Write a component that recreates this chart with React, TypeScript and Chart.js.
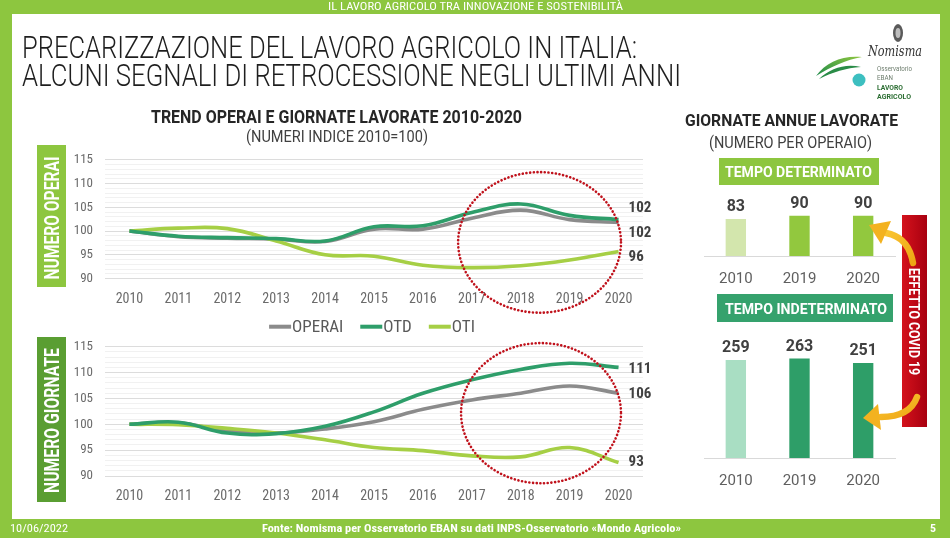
import React, { useEffect, useRef } from "react";
import { Chart, registerables } from "chart.js";
Chart.register(...registerables);

// ---------- DATA ----------
const YEARS = ["2010", "2011", "2012", "2013", "2014", "2015", "2016", "2017", "2018", "2019", "2020"];
const SERIES = ["OPERAI", "OTD", "OTI"];
// Numero operai (indice 2010=100)
const operaiOPERAI = [100, 98.8, 98.5, 98.3, 97.8, 100.4, 100.4, 102.7, 104.4, 102.4, 101.8];
const operaiOTD = [100, 98.9, 98.6, 98.4, 97.9, 100.9, 101.1, 103.9, 105.7, 103.3, 102.4];
const operaiOTI = [100, 100.6, 100.5, 97.9, 95.0, 94.7, 92.8, 92.3, 92.7, 93.9, 95.7];
// Numero giornate (indice 2010=100)
const giornateOPERAI = [100, 100.3, 98.7, 98.3, 99.1, 100.5, 102.9, 104.7, 106.0, 107.4, 106.0];
const giornateOTD = [100, 100.4, 98.3, 98.2, 99.6, 102.4, 106.0, 108.6, 110.6, 111.8, 111.0];
const giornateOTI = [100, 99.9, 99.2, 98.3, 97.0, 95.5, 94.9, 93.9, 93.7, 95.5, 92.6];
const Y_MIN = 90;
const Y_MAX = 115;
const Y_LABEL_STEP = 5;
// Giornate annue lavorate per operaio
const BAR_YEARS = ["2010", "2019", "2020"];
const tempoDeterminato = [83, 90, 90];
const tempoIndeterminato = [259, 263, 251];

// ---------- STYLE ----------
const GREEN = "#8dc63f";
const C_OPERAI = "#8b8b8b";
const C_OTD = "#2e9e6a";
const C_OTI = "#a6cf45";
const FONT_N = "'Liberation Sans Narrow', 'Roboto Condensed', 'DejaVu Sans Condensed', 'Liberation Sans', sans-serif";
const FONT_S = "Roboto, 'Liberation Sans', sans-serif";
Chart.defaults.font.family = FONT_N;

function endLabelsPlugin(offsets: number[]) {
  return {
    id: "endLabels",
    afterDatasetsDraw(chart: any) {
      const ctx = chart.ctx;
      ctx.save();
      ctx.font = `bold 15px ${FONT_N}`;
      ctx.fillStyle = "#404040";
      ctx.textAlign = "left";
      ctx.textBaseline = "middle";
      chart.data.datasets.forEach((ds: any, i: number) => {
        const meta = chart.getDatasetMeta(i);
        const pt = meta.data[meta.data.length - 1];
        const v = ds.data[ds.data.length - 1];
        ctx.fillText(String(Math.round(v)), pt.x + 10, pt.y + offsets[i]);
      });
      ctx.restore();
    },
  };
}

function ellipsePlugin(e: { x0: number; x1: number; y0: number; y1: number }) {
  return {
    id: "ellipseAnno",
    afterDraw(chart: any) {
      const { x, y } = chart.scales;
      const ctx = chart.ctx;
      const px0 = x.getPixelForValue(e.x0), px1 = x.getPixelForValue(e.x1);
      const py0 = y.getPixelForValue(e.y0), py1 = y.getPixelForValue(e.y1);
      ctx.save();
      ctx.beginPath();
      ctx.ellipse((px0 + px1) / 2, (py0 + py1) / 2, Math.abs(px1 - px0) / 2, Math.abs(py1 - py0) / 2, 0, 0, Math.PI * 2);
      ctx.setLineDash([0.1, 3.6]);
      ctx.lineCap = "round";
      ctx.lineWidth = 2.6;
      ctx.strokeStyle = "#c0121c";
      ctx.stroke();
      ctx.restore();
    },
  };
}

const legendPlugin = {
  id: "lineLegend",
  afterDraw(chart: any) {
    const ctx = chart.ctx;
    const ca = chart.chartArea;
    ctx.save();
    ctx.font = `17px ${FONT_N}`;
    const seg = 22, gap = 1, space = 17;
    const items = chart.data.datasets.map((ds: any) => ({
      label: ds.label,
      color: ds.borderColor,
      w: seg + gap + ctx.measureText(ds.label).width,
    }));
    const total = items.reduce((s: number, it: any) => s + it.w, 0) + space * (items.length - 1);
    let x = (ca.left + ca.right) / 2 - 2 - total / 2;
    const y = ca.top - 20;
    items.forEach((it: any) => {
      ctx.strokeStyle = it.color;
      ctx.lineWidth = 4;
      ctx.beginPath();
      ctx.moveTo(x, y);
      ctx.lineTo(x + seg, y);
      ctx.stroke();
      ctx.fillStyle = "#595959";
      ctx.textBaseline = "middle";
      ctx.textAlign = "left";
      ctx.fillText(it.label, x + seg + gap, y + 1);
      x += it.w + space;
    });
    ctx.restore();
  },
};

function barLabelsPlugin() {
  return {
    id: "barLabels",
    afterDatasetsDraw(chart: any) {
      const ctx = chart.ctx;
      ctx.save();
      ctx.font = `bold 16px ${FONT_S}`;
      ctx.fillStyle = "#404040";
      ctx.textAlign = "center";
      ctx.textBaseline = "middle";
      const meta = chart.getDatasetMeta(0);
      meta.data.forEach((bar: any, i: number) => {
        ctx.fillText(String(chart.data.datasets[0].data[i]), bar.x, bar.y - 12);
      });
      ctx.restore();
    },
  };
}

function lineConfig(o: {
  series: number[][];
  padTop: number;
  xHeight: number;
  tickPad: number;
  offsets: number[];
  ellipse: { x0: number; x1: number; y0: number; y1: number };
  legend: boolean;
}): any {
  const colors = [C_OPERAI, C_OTD, C_OTI];
  const orders = [3, 1, 2];
  const plugins: any[] = [endLabelsPlugin(o.offsets), ellipsePlugin(o.ellipse)];
  if (o.legend) plugins.push(legendPlugin);
  return {
    type: "line",
    data: {
      labels: YEARS,
      datasets: o.series.map((d, i) => ({
        label: SERIES[i],
        data: d,
        borderColor: colors[i],
        backgroundColor: colors[i],
        borderWidth: 3.6,
        tension: 0.4,
        pointRadius: 0,
        order: orders[i],
        fill: false,
      })),
    },
    options: {
      animation: false,
      responsive: false,
      layout: { padding: { top: o.padTop, right: 27, left: 0, bottom: 0 } },
      plugins: { legend: { display: false }, tooltip: { enabled: false } },
      scales: {
        x: {
          type: "category",
          offset: true,
          grid: { display: false },
          border: { display: false },
          ticks: { padding: o.tickPad, color: "#6b6b6b", font: { size: 14 }, maxRotation: 0, autoSkip: false },
          afterFit: (s: any) => { s.height = o.xHeight; },
        },
        y: {
          min: Y_MIN,
          max: Y_MAX,
          border: { display: false },
          grid: {
            drawTicks: false,
            color: (c: any) => (c.tick && c.tick.value % Y_LABEL_STEP === 0 ? "#dcdcdc" : "#f1f1f1"),
            lineWidth: 1,
          },
          ticks: {
            stepSize: 1,
            autoSkip: false,
            padding: 12,
            color: "#6b6b6b",
            font: { size: 13 },
            callback: (v: any) => (Number(v) % Y_LABEL_STEP === 0 ? String(v) : ""),
          },
          afterFit: (s: any) => { s.width = 35; },
        },
      },
    },
    plugins,
  };
}

function barConfig(o: { values: number[]; colors: string[]; max: number; padTop: number; xHeight: number; tickPad: number }): any {
  return {
    type: "bar",
    data: {
      labels: BAR_YEARS,
      datasets: [{ data: o.values, backgroundColor: o.colors, barPercentage: 0.32, categoryPercentage: 1 }],
    },
    options: {
      animation: false,
      responsive: false,
      layout: { padding: { top: o.padTop, left: 4, right: 5, bottom: 0 } },
      plugins: { legend: { display: false }, tooltip: { enabled: false } },
      scales: {
        x: {
          grid: { display: false },
          border: { display: true, color: "#d9d9d9", width: 1 },
          ticks: { padding: o.tickPad, color: "#5f5f5f", font: { size: 15, family: FONT_S } },
          afterFit: (s: any) => { s.height = o.xHeight; },
        },
        y: { display: false, min: 0, max: o.max },
      },
    },
    plugins: [barLabelsPlugin()],
  };
}

function ChartCanvas(p: { make: () => any; left: number; top: number; width: number; height: number }) {
  const ref = useRef<HTMLCanvasElement | null>(null);
  useEffect(() => {
    const chart = new Chart(ref.current as HTMLCanvasElement, p.make());
    return () => chart.destroy();
  }, []);
  return (
    <canvas
      ref={ref}
      width={p.width}
      height={p.height}
      style={{ position: "absolute", left: p.left, top: p.top, width: p.width, height: p.height }}
    />
  );
}

function T(p: any) {
  return (
    <text
      x={p.x}
      y={p.y}
      textLength={p.w}
      lengthAdjust="spacingAndGlyphs"
      fontSize={p.size}
      fontWeight={p.weight || 400}
      fontStyle={p.italic ? "italic" : "normal"}
      fill={p.fill || "#262626"}
      fontFamily={p.family || FONT_S}
      textAnchor={p.anchor || "start"}
      transform={p.transform}
    >
      {p.children}
    </text>
  );
}

export default function App() {
  return (
    <div style={{ position: "absolute", left: 0, top: 0, width: 950, height: 538, background: GREEN, overflow: "hidden" }}>
      <div style={{ position: "absolute", left: 12, top: 14, width: 928, height: 505, background: "#ffffff" }} />

      <ChartCanvas
        left={70}
        top={140}
        width={600}
        height={180}
        make={() =>
          lineConfig({
            series: [operaiOPERAI, operaiOTD, operaiOTI],
            padTop: 9,
            xHeight: 41.5,
            tickPad: 5,
            offsets: [11, -11, 6],
            ellipse: { x0: 6.72, x1: 10.05, y0: 112.4, y1: 82.8 },
            legend: false,
          })
        }
      />
      <ChartCanvas
        left={70}
        top={312}
        width={600}
        height={198}
        make={() =>
          lineConfig({
            series: [giornateOPERAI, giornateOTD, giornateOTI],
            padTop: 34.7,
            xHeight: 34,
            tickPad: 4,
            offsets: [1, 1.5, 0],
            ellipse: { x0: 6.78, x1: 10.05, y0: 115.7, y1: 88.6 },
            legend: true,
          })
        }
      />
      <ChartCanvas
        left={700}
        top={190}
        width={200}
        height={100}
        make={() =>
          barConfig({ values: tempoDeterminato, colors: ["#d3e6ad", "#92c83e", "#92c83e"], max: 100, padTop: 21.4, xHeight: 34, tickPad: 6 })
        }
      />
      <ChartCanvas
        left={700}
        top={320}
        width={200}
        height={185}
        make={() =>
          barConfig({ values: tempoIndeterminato, colors: ["#a9dec3", "#2e9e68", "#2e9e68"], max: 300, padTop: 24.6, xHeight: 47, tickPad: 6 })
        }
      />

      <svg width={950} height={538} style={{ position: "absolute", left: 0, top: 0, pointerEvents: "none" }}>
        <defs>
          <linearGradient id="arrowG" x1="0" y1="0" x2="1" y2="1">
            <stop offset="0" stopColor="#f9c531" />
            <stop offset="1" stopColor="#eea514" />
          </linearGradient>
          <linearGradient id="redG" x1="0" y1="0" x2="1" y2="0">
            <stop offset="0" stopColor="#d4121c" />
            <stop offset="1" stopColor="#a80010" />
          </linearGradient>
          <linearGradient id="leafA" x1="0" y1="1" x2="1" y2="0">
            <stop offset="0" stopColor="#1e8a4a" />
            <stop offset="1" stopColor="#8dc63f" />
          </linearGradient>
        </defs>

        {/* header & footer */}
        <T x={328} y={10} w={295} size={10} fill="#ffffff" family={FONT_N}>IL LAVORO AGRICOLO TRA INNOVAZIONE E SOSTENIBILITÀ</T>
        <T x={10} y={531.5} w={58} size={10} fill="#ffffff" family={FONT_N}>10/06/2022</T>
        <T x={262} y={531.5} w={419} size={10.5} weight={700} fill="#ffffff" family={FONT_N}>Fonte: Nomisma per Osservatorio EBAN su dati INPS-Osservatorio «Mondo Agricolo»</T>
        <T x={930} y={531.5} w={6} size={10.5} weight={700} fill="#ffffff" family={FONT_N}>5</T>

        {/* main title */}
        <T x={22} y={58} w={615} size={31} weight={300} fill="#1e1e1e">PRECARIZZAZIONE DEL LAVORO AGRICOLO IN ITALIA:</T>
        <T x={22} y={86} w={659} size={31} weight={300} fill="#1e1e1e">ALCUNI SEGNALI DI RETROCESSIONE NEGLI ULTIMI ANNI</T>

        {/* logo */}
        <ellipse cx={898} cy={33} rx={5} ry={9} fill="#5a5a5a" />
        <ellipse cx={898} cy={33} rx={2.5} ry={5} fill="#bdbdbd" />
        <T x={868} y={56} w={54} size={15} italic fill="#333333" family="'DejaVu Serif', 'Liberation Serif', serif">Nomisma</T>
        <path d="M816 76 C826 62 843 55 862 57 C846 60 832 66 816 76 Z" fill="url(#leafA)" />
        <path d="M819 79 C830 68 846 63 861 67 C846 68 833 72 819 79 Z" fill="#2a8c47" />
        <circle cx={859} cy={80} r={6.5} fill="#3dbfc0" />
        <T x={877} y={71} w={35} size={8} fill="#6f7f6f">Osservatorio</T>
        <T x={877} y={80} w={16} size={8} fill="#6f7f6f">EBAN</T>
        <T x={877} y={90} w={26} size={8} weight={700} fill="#2c6e33">LAVORO</T>
        <T x={877} y={99} w={34} size={8} weight={700} fill="#2c6e33">AGRICOLO</T>

        {/* left chart titles */}
        <T x={151} y={122.5} w={371} size={18} weight={700} fill="#262626">TREND OPERAI E GIORNATE LAVORATE 2010-2020</T>
        <T x={246} y={142} w={182} size={16} fill="#404040">(NUMERI INDICE 2010=100)</T>

        {/* vertical side boxes */}
        <rect x={37} y={145} width={29} height={142} fill={GREEN} />
        <T x={51.5} y={225} w={123} size={20} weight={700} fill="#ffffff" anchor="middle" transform="rotate(-90 51.5 218)">NUMERO OPERAI</T>
        <rect x={37} y={337} width={29} height={165} fill="#5a9e32" />
        <T x={51.5} y={427.5} w={145} size={20} weight={700} fill="#ffffff" anchor="middle" transform="rotate(-90 51.5 420.5)">NUMERO GIORNATE</T>

        {/* right panel titles */}
        <T x={685} y={126} w={213} size={17} weight={700} fill="#262626">GIORNATE ANNUE LAVORATE</T>
        <T x={709} y={148} w={163} size={16} fill="#404040">(NUMERO PER OPERAIO)</T>
        <rect x={719} y={158} width={160} height={27} fill={GREEN} />
        <T x={725} y={177} w={147} size={15} weight={700} fill="#ffffff">TEMPO DETERMINATO</T>
        <rect x={717} y={294} width={176} height={28} fill="#35a26d" />
        <T x={725} y={313.5} w={162} size={15} weight={700} fill="#ffffff">TEMPO INDETERMINATO</T>

        {/* covid box */}
        <rect x={902} y={215} width={25} height={212} fill="url(#redG)" />
        <T x={914.5} y={327} w={107} size={15} weight={700} fill="#ffffff" anchor="middle" transform="rotate(90 914.5 321.5)">EFFETTO COVID 19</T>

        {/* arrows */}
        <path d="M913 263 C910 246 902 236 886 233" stroke="url(#arrowG)" strokeWidth={6.5} fill="none" strokeLinecap="round" />
        <polygon points="869,225 891,221 881,244" fill="#f3b21f" />
        <path d="M917 397 C912 411 900 417 881 417" stroke="url(#arrowG)" strokeWidth={6.5} fill="none" strokeLinecap="round" />
        <polygon points="863,418 878,404 881,430" fill="#f3b21f" />
      </svg>
    </div>
  );
}
